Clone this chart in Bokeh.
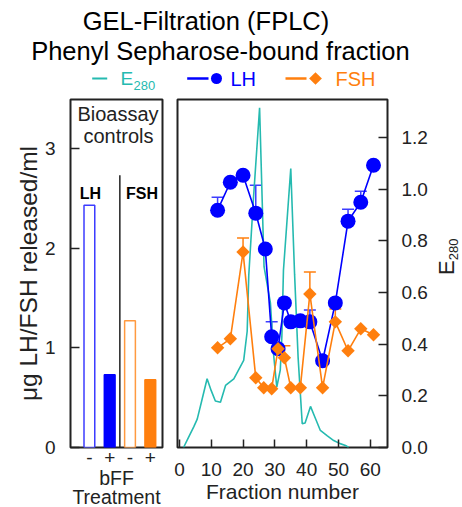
import math
from bokeh.plotting import figure
from bokeh.layouts import column, row
from bokeh.models import (Range1d, LinearAxis, FixedTicker, Label, Whisker, TeeHead,
                          ColumnDataSource, NumeralTickFormatter)
from bokeh.embed import file_html
from bokeh.resources import INLINE

FONT = "Liberation Sans"
TEAL = "#25bab0"
BLUE = "#0000ff"
BLUE_LIGHT = "#3c3cff"
ORANGE = "#ff7f0e"
ORANGE_LIGHT = "#ff9a40"
FRAME = "#222222"
TXT = "#222222"

# ---------------- data ----------------
# bioassay controls (left panel)
ctrl_pos = [1, 2, 3, 4]
ctrl_tick_labels = ["-", "+", "-", "+"]
ctrl_values = [2.43, 0.73, 1.27, 0.68]
ctrl_divider = 2.5
ctrl_divider_top = 2.73

# E280 absorbance trace
e_x = [1.3, 2.9, 4.5, 5.6, 7.0, 8.7, 10.0, 11.3, 12.9, 14.5, 17.1, 20.2, 21.3, 21.8, 23.2,
       25.2, 26.6, 28.6, 29.6, 30.6, 31.7, 32.2, 32.7, 35.0, 36.2, 37.3, 38.6, 39.5, 41.2,
       42.5, 44.3, 46.5, 48.5, 50.5, 52.2, 53.2]
e_y = [0.0, 0.04, 0.08, 0.11, 0.18, 0.266, 0.22, 0.18, 0.175, 0.24, 0.266, 0.337, 0.45, 0.667, 0.95,
       1.315, 0.70, 0.56, 0.36, 0.234, 0.30, 0.43, 0.686, 1.08, 0.67, 0.35, 0.092, 0.095, 0.159,
       0.12, 0.066, 0.045, 0.027, 0.015, 0.008, 0.0]

# LH (ug/ml)
lh_x = [12, 16, 20, 24, 27, 29, 31, 33, 35, 38, 41, 45, 49, 53, 57, 61]
lh_y = [2.38, 2.66, 2.73, 2.35, 1.99, 1.11, 0.99, 1.45, 1.26, 1.27, 1.26, 0.87, 1.45, 2.27, 2.46, 2.83]
lh_err_x = [12, 24, 29, 41, 53, 57]
lh_err_top = [2.51, 2.63, 1.26, 1.38, 2.39, 2.57]

# FSH (ug/ml)
fsh_x = [12, 16, 20, 24, 26.5, 29, 31, 33, 35, 38, 41, 45, 49, 53, 57, 61]
fsh_y = [1.00, 1.09, 1.96, 0.70, 0.60, 0.59, 0.99, 0.90, 0.60, 0.60, 1.54, 0.60, 1.26, 0.97, 1.19, 1.13]
fsh_err_x = [20, 33, 41, 49]
fsh_err_top = [2.10, 1.02, 1.76, 1.39]

x_ticks = [0, 10, 20, 30, 40, 50, 60]
left_ticks = [0, 1, 2, 3]
e_ticks = [0.0, 0.2, 0.4, 0.6, 0.8, 1.0, 1.2]


def lbl(fig, x, y, text, size, color=TXT, align="center", baseline="middle",
        units="data", style="normal", angle=0.0):
    fig.add_layout(Label(x=x, y=y, x_units=units, y_units=units, text=text,
                         text_font=FONT, text_font_size=size, text_color=color,
                         text_align=align, text_baseline=baseline,
                         text_font_style=style, angle=angle))


def blank(width, height):
    f = figure(width=width, height=height, x_range=Range1d(0, width), y_range=Range1d(0, height),
               toolbar_location=None, output_backend="svg", min_border=0,
               x_axis_location=None, y_axis_location=None)
    f.outline_line_color = None
    f.grid.visible = False
    return f


# ---------------- title + legend ----------------
p0 = blank(460, 92)
lbl(p0, 209, 72, "GEL-Filtration  (FPLC)", "25.5px", "black")
lbl(p0, 227, 42, "Phenyl  Sepharose-bound  fraction", "25.5px", "black")
p0.segment(x0=[91.7], y0=[14], x1=[106.7], y1=[14], line_color=TEAL, line_width=2)
lbl(p0, 120, 14, "E", "19px", TEAL, align="left")
lbl(p0, 133, 7, "280", "13px", TEAL, align="left")
p0.segment(x0=[186.7], y0=[14], x1=[208], y1=[14], line_color=BLUE, line_width=2.5)
p0.scatter(x=[216], y=[14], marker="circle", size=11, fill_color=BLUE, line_color=None)
lbl(p0, 230, 14, "LH", "20px", BLUE, align="left")
p0.segment(x0=[285], y0=[14], x1=[306], y1=[14], line_color=ORANGE, line_width=2.5)
p0.scatter(x=[315], y=[14], marker="square", angle=math.pi / 4, size=9,
           fill_color=ORANGE, line_color=None)
lbl(p0, 335, 14, "FSH", "20px", ORANGE, align="left")

# ---------------- left panel: controls ----------------
p1 = figure(frame_width=92, frame_height=348, x_range=Range1d(0.07, 4.6), y_range=Range1d(0, 3.49),
            toolbar_location=None, output_backend="svg",
            min_border_left=70, min_border_right=7, min_border_top=7, min_border_bottom=58)
p1.grid.visible = False
p1.outline_line_color = FRAME
p1.outline_line_width = 2

p1.yaxis.ticker = FixedTicker(ticks=left_ticks)
p1.yaxis.major_tick_in = 9
p1.yaxis.major_tick_out = 0
p1.yaxis.minor_tick_line_color = None
p1.yaxis.axis_line_color = None
p1.yaxis.major_tick_line_color = FRAME
p1.yaxis.major_tick_line_width = 1.5
p1.yaxis.major_label_text_font = FONT
p1.yaxis.major_label_text_font_size = "19px"
p1.yaxis.major_label_text_color = TXT
p1.yaxis.major_label_standoff = 15
p1.yaxis.axis_label = "\u03bcg LH/FSH released/ml"
p1.yaxis.axis_label_text_font = FONT
p1.yaxis.axis_label_text_font_size = "24.5px"
p1.yaxis.axis_label_text_font_style = "normal"
p1.yaxis.axis_label_text_color = TXT
p1.yaxis.axis_label_standoff = 0

p1.xaxis.ticker = FixedTicker(ticks=ctrl_pos)
p1.xaxis.major_label_overrides = {k: v for k, v in zip(ctrl_pos, ctrl_tick_labels)}
p1.xaxis.major_tick_in = 0
p1.xaxis.major_tick_out = 0
p1.xaxis.minor_tick_line_color = None
p1.xaxis.axis_line_color = None
p1.xaxis.major_label_text_font = FONT
p1.xaxis.major_label_text_font_size = "19px"
p1.xaxis.major_label_text_color = TXT
p1.xaxis.major_label_standoff = 3
p1.xaxis.axis_label = "bFF\nTreatment"
p1.xaxis.axis_label_text_font = FONT
p1.xaxis.axis_label_text_font_size = "19.5px"
p1.xaxis.axis_label_text_font_style = "normal"
p1.xaxis.axis_label_text_color = TXT
p1.xaxis.axis_label_text_line_height = 0.9
p1.xaxis.axis_label_standoff = 0

bar_src = ColumnDataSource(dict(x=ctrl_pos, top=ctrl_values,
                                fill=["white", BLUE, "white", ORANGE],
                                line=[BLUE_LIGHT, BLUE, ORANGE_LIGHT, ORANGE]))
p1.vbar(x="x", top="top", width=0.53, bottom=0, source=bar_src,
        fill_color="fill", line_color="line", line_width=1.5)
p1.segment(x0=[ctrl_divider], y0=[0], x1=[ctrl_divider], y1=[ctrl_divider_top],
           line_color=FRAME, line_width=1.5)

# texts inside the frame (screen units measured from the frame's lower-left corner)
lbl(p1, 47.5, 334, "Bioassay", "20px", units="screen")
lbl(p1, 48, 312, "controls", "20px", units="screen")
lbl(p1, 20, 254, "LH", "16px", "black", units="screen", style="bold")
lbl(p1, 71.5, 254, "FSH", "16px", "black", units="screen", style="bold")

# ---------------- right panel: fractions ----------------
p2 = figure(frame_width=210, frame_height=348, x_range=Range1d(-0.6, 65.4), y_range=Range1d(0, 3.49),
            y_axis_location=None, toolbar_location=None, output_backend="svg",
            min_border_left=8, min_border_right=45, min_border_top=7, min_border_bottom=58)
p2.extra_y_ranges = {"E": Range1d(0, 1.347)}
p2.grid.visible = False
p2.outline_line_color = FRAME
p2.outline_line_width = 2

p2.xaxis.ticker = FixedTicker(ticks=x_ticks)
p2.xaxis.major_tick_in = 8
p2.xaxis.major_tick_out = 0
p2.xaxis.major_tick_line_color = FRAME
p2.xaxis.major_tick_line_width = 1.5
p2.xaxis.minor_tick_line_color = None
p2.xaxis.axis_line_color = None
p2.xaxis.major_label_text_font = FONT
p2.xaxis.major_label_text_font_size = "19px"
p2.xaxis.major_label_text_color = TXT
p2.xaxis.major_label_standoff = 15
p2.xaxis.axis_label = "Fraction number"
p2.xaxis.axis_label_text_font = FONT
p2.xaxis.axis_label_text_font_size = "21px"
p2.xaxis.axis_label_text_font_style = "normal"
p2.xaxis.axis_label_text_color = TXT
p2.xaxis.axis_label_standoff = 1

eax = LinearAxis(y_range_name="E", ticker=FixedTicker(ticks=e_ticks),
                 formatter=NumeralTickFormatter(format="0.0"))
eax.major_tick_in = 9
eax.major_tick_out = 0
eax.major_tick_line_color = FRAME
eax.major_tick_line_width = 1.5
eax.minor_tick_line_color = None
eax.axis_line_color = None
eax.major_label_text_font = FONT
eax.major_label_text_font_size = "19px"
eax.major_label_text_color = TXT
eax.major_label_standoff = 14
p2.add_layout(eax, "right")

p2.line(x=e_x, y=e_y, y_range_name="E", line_color=TEAL, line_width=1.6)

lh_low = [lh_y[lh_x.index(f)] for f in lh_err_x]
fsh_low = [fsh_y[fsh_x.index(f)] for f in fsh_err_x]
p2.add_layout(Whisker(source=ColumnDataSource(dict(b=lh_err_x, lo=lh_low, up=lh_err_top)),
                      base="b", lower="lo", upper="up", line_color=BLUE_LIGHT, line_width=1.5,
                      lower_head=None,
                      upper_head=TeeHead(size=12, line_color=BLUE_LIGHT, line_width=1.5)))
p2.add_layout(Whisker(source=ColumnDataSource(dict(b=fsh_err_x, lo=fsh_low, up=fsh_err_top)),
                      base="b", lower="lo", upper="up", line_color=ORANGE, line_width=1.5,
                      lower_head=None,
                      upper_head=TeeHead(size=12, line_color=ORANGE, line_width=1.5)))

p2.line(x=lh_x, y=lh_y, line_color=BLUE, line_width=1.6)
p2.scatter(x=lh_x, y=lh_y, marker="circle", size=15, fill_color=BLUE, line_color=None)
p2.line(x=fsh_x, y=fsh_y, line_color=ORANGE, line_width=1.6)
p2.scatter(x=fsh_x, y=fsh_y, marker="square", angle=math.pi / 4, size=9.5,
           fill_color=ORANGE, line_color=None)

# ---------------- right-axis title strip (E280) ----------------
p3 = blank(30, 413)
lbl(p3, 13.5, 210, "E", "22px", angle=math.pi / 2)
lbl(p3, 21, 232, "280", "13px", angle=math.pi / 2)

layout = column(p0, row(p1, p2, p3))
with open("out.html", "w") as f:
    f.write(file_html(layout, INLINE))
